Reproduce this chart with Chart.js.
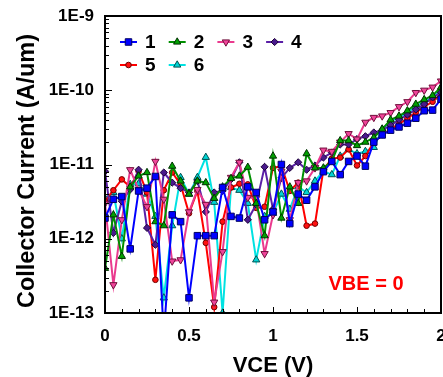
<!DOCTYPE html>
<html>
<head>
<meta charset="utf-8">
<script src="https://cdn.jsdelivr.net/npm/chart.js@4.4.0/dist/chart.umd.min.js"></script>
<style>
  html, body { margin: 0; padding: 0; background: #fff; }
</style>
</head>
<body>
<canvas id="myChart" width="443" height="377"></canvas>
<script>
const canvas = document.getElementById('myChart');
const FONT = '"Liberation Sans", Arial, sans-serif';

// VCE (V) sweep
const vce = [0, 0.05, 0.1, 0.15, 0.2, 0.25, 0.3, 0.35, 0.4, 0.45, 0.5, 0.55, 0.6, 0.65, 0.7, 0.75, 0.8, 0.85, 0.9, 0.95,
    1, 1.05, 1.1, 1.15, 1.2, 1.25, 1.3, 1.35, 1.4, 1.45, 1.5, 1.55, 1.6, 1.65, 1.7, 1.75, 1.8, 1.85, 1.9, 1.95, 2];

const seriesNames = ['1', '2', '3', '4', '5', '6'];

// collector current (A/um), one array per device
const ic1 = [1.9e-12, 3.4e-12, 3.7e-12, 7.3e-13, 4.4e-12, 4.8e-12, 6.9e-12, 5e-14, 2.1e-12, 1.7e-12,
    1.6e-13, 1.1e-12, 1.1e-12, 1.1e-12, 4.9e-12, 2.0e-12, 1.9e-12, 5e-12, 4.2e-12, 1.8e-12,
    2.3e-12, 1e-11, 1.6e-12, 4e-12, 3.3e-12, 5e-12, 8e-12, 1.1e-11, 7.3e-12, 1.1e-11,
    1.3e-11, 9.5e-12, 2e-11, 2.5e-11, 2.9e-11, 3.2e-11, 3.6e-11, 4.2e-11, 5.3e-11, 5.4e-11, 7.6e-11];
const ic2 = [4e-13, 2.1e-12, 5.8e-13, 5e-12, 7e-12, 7.8e-12, 1.7e-12, 1.5e-12, 9.5e-12, 6e-12,
    4e-12, 6e-12, 5.7e-12, 3.5e-12, 5e-12, 6.5e-12, 7e-12, 9.2e-12, 3e-12, 1.1e-12,
    1.3e-11, 1.9e-12, 5e-12, 3e-12, 1.4e-11, 9e-12, 9e-12, 1.1e-11, 2.1e-11, 2.1e-11,
    1.8e-11, 2e-11, 2.3e-11, 3e-11, 4e-11, 4.5e-11, 5.3e-11, 6.5e-11, 7.5e-11, 8.5e-11, 1.1e-10];
const ic3 = [3e-12, 2.4e-13, 1.8e-12, 8.5e-12, 4.6e-12, 2.7e-12, 1.1e-11, 3.4e-12, 5e-13, 5.2e-13,
    2.3e-12, 4.6e-12, 2.9e-12, 1.4e-13, 6.7e-13, 6.7e-12, 1.07e-11, 3.6e-12, 3.5e-12, 6.3e-13,
    2.1e-12, 8.1e-12, 1.8e-12, 5.7e-12, 6e-12, 9e-12, 1.56e-11, 1.5e-11, 2e-11, 2.6e-11,
    2.2e-11, 3.7e-11, 4.3e-11, 4.5e-11, 5e-11, 6e-11, 7e-11, 9.3e-11, 1e-10, 1.1e-10, 1.33e-10];
const ic4 = [8.1e-12, 1.2e-12, 3.2e-12, 4.6e-12, 8.5e-12, 1.4e-12, 8.3e-13, 7.8e-12, 5.7e-12, 4.8e-12,
    4.2e-12, 6e-12, 2.3e-12, 4.2e-12, 4.4e-12, 6.3e-12, 1.07e-11, 1.8e-12, 2.9e-12, 9.3e-12,
    2.5e-12, 6.6e-12, 9e-12, 1.07e-11, 8.5e-12, 9.7e-12, 1.24e-11, 1.45e-11, 1.86e-11, 1.86e-11,
    2.2e-11, 2.4e-11, 2.7e-11, 2.9e-11, 3.4e-11, 4e-11, 4.7e-11, 5.5e-11, 6.5e-11, 8e-11, 9.4e-11];
const ic5 = [3.2e-12, 4.5e-12, 6.3e-12, 5e-12, 8.1e-12, 4.2e-12, 2.8e-13, 4.5e-12, 7.8e-12, 5.4e-12,
    2.2e-12, 4.4e-12, 8.8e-13, 1.2e-13, 1.7e-12, 4.9e-12, 5.5e-12, 5.4e-12, 2.6e-12, 2.7e-12,
    9e-12, 9.5e-12, 4.4e-12, 5.7e-12, 1.5e-12, 1.6e-12, 8.5e-12, 1.2e-11, 1.24e-11, 1.6e-11,
    9.7e-12, 1.3e-11, 2e-11, 2.5e-11, 3e-11, 3.5e-11, 4.2e-11, 5e-11, 6e-11, 7e-11, 9e-11];
const ic6 = [3.5e-12, 4.2e-12, 1e-12, 5.4e-12, 5.5e-12, 4e-12, 2e-12, 1.6e-13, 1.5e-12, 6.7e-12,
    4e-12, 6.7e-12, 1.25e-11, 3.1e-12, 1e-13, 4.9e-12, 4.5e-12, 3e-12, 5.2e-13, 2e-12,
    2.2e-12, 4e-12, 2.5e-12, 5e-12, 4.2e-12, 6e-12, 8.1e-12, 7.3e-12, 1.3e-11, 1.6e-11,
    1.4e-11, 1.5e-11, 1.7e-11, 3e-11, 3.8e-11, 4.3e-11, 5e-11, 6e-11, 7e-11, 8e-11, 1e-10];

const xTicks = [0, 0.5, 1, 1.5, 2];
const xTickLabels = ['0', '0.5', '1', '1.5', '2'];
const yTicks = [1e-13, 1e-12, 1e-11, 1e-10, 1e-9];
const yTickLabels = ['1E-13', '1E-12', '1E-11', '1E-10', '1E-9'];
const yTitle = 'Collector Current (A/um)';
const note = 'VBE = 0';

const allSeries = [ic1, ic2, ic3, ic4, ic5, ic6];
const styles = [
    { line: '#0000ff', fill: '#0000ff', edge: '#000060', shape: 'rect', r: 4.6, rot: 0 },
    { line: '#008f00', fill: '#00a000', edge: '#003000', shape: 'triangle', r: 4.2, rot: 0 },
    { line: '#ea3a8e', fill: '#f0449a', edge: '#70103c', shape: 'triangle', r: 4.2, rot: 180 },
    { line: '#5a1fa6', fill: '#4a1a8c', edge: '#1c0038', shape: 'rectRot', r: 3.6, rot: 0 },
    { line: '#ff0000', fill: '#ff1010', edge: '#700000', shape: 'circle', r: 2.8, rot: 0 },
    { line: '#00e2e2', fill: '#00d4d4', edge: '#005050', shape: 'triangle', r: 4.2, rot: 0 }
];

const datasets = allSeries.map((vals, i) => ({
    label: seriesNames[i],
    data: vals.map((v, j) => ({ x: vce[j], y: v })),
    borderColor: styles[i].line,
    backgroundColor: styles[i].fill,
    borderWidth: 2,
    pointStyle: styles[i].shape,
    pointRotation: styles[i].rot,
    pointRadius: styles[i].r,
    pointBackgroundColor: styles[i].fill,
    pointBorderColor: styles[i].edge,
    pointBorderWidth: 1,
    tension: 0
}));

// frame, inward tick marks, x labels, y title, legend inside the plot, annotation
const decorPlugin = {
    id: 'decor',
    afterDatasetsDraw(chart) {
        const { ctx, chartArea: a, scales: { x, y } } = chart;
        ctx.save();
        ctx.strokeStyle = '#000';
        ctx.lineWidth = 1;
        ctx.beginPath();
        for (let i = 0; i <= 20; i++) {
            const px = Math.round(x.getPixelForValue(i / 10)) + 0.5;
            const len = i % 5 === 0 ? 6 : 4;
            ctx.moveTo(px, a.bottom);
            ctx.lineTo(px, a.bottom - len);
        }
        for (let k = -13; k <= -9; k++) {
            for (let m = 1; m <= 9; m++) {
                if (k === -9 && m > 1) break;
                const py = Math.round(y.getPixelForValue(m * Math.pow(10, k))) + 0.5;
                const len = m === 1 ? 7 : 4;
                ctx.moveTo(a.left, py);
                ctx.lineTo(a.left + len, py);
            }
        }
        ctx.stroke();

        ctx.lineWidth = 2;
        ctx.strokeRect(a.left, a.top, a.right - a.left, a.bottom - a.top);

        // x tick labels (drawn here so the last one can run off the canvas)
        ctx.fillStyle = '#000';
        ctx.font = 'bold 17px ' + FONT;
        ctx.textAlign = 'center';
        ctx.textBaseline = 'middle';
        xTicks.forEach((v, i) => {
            ctx.fillText(xTickLabels[i], x.getPixelForValue(v), a.bottom + 23);
        });

        // y title
        ctx.save();
        ctx.translate(a.left - 77, (a.top + a.bottom) / 2 + 6.5);
        ctx.rotate(-Math.PI / 2);
        ctx.font = 'bold 23.5px ' + FONT;
        ctx.fillText(yTitle, 0, 0);
        ctx.restore();

        // legend
        chart.data.datasets.forEach((ds, i) => {
            const col = i % 4, row = Math.floor(i / 4);
            const x0 = a.left + 15 + col * 48.7;
            const y0 = a.top + 26 + row * 23;
            ctx.strokeStyle = ds.borderColor;
            ctx.lineWidth = 2;
            ctx.beginPath();
            ctx.moveTo(x0, y0);
            ctx.lineTo(x0 + 17, y0);
            ctx.stroke();
            ctx.fillStyle = ds.pointBackgroundColor;
            ctx.strokeStyle = ds.pointBorderColor;
            ctx.lineWidth = 1;
            Chart.helpers.drawPoint(ctx, {
                pointStyle: ds.pointStyle, rotation: ds.pointRotation,
                radius: ds.pointRadius, borderWidth: 1
            }, x0 + 8.5, y0);
            ctx.fillStyle = '#000';
            ctx.font = 'bold 19px ' + FONT;
            ctx.textAlign = 'left';
            ctx.textBaseline = 'middle';
            ctx.fillText(ds.label, x0 + 25, y0 + 1);
        });

        ctx.fillStyle = '#ff0000';
        ctx.font = 'bold 20px ' + FONT;
        ctx.textAlign = 'center';
        ctx.textBaseline = 'middle';
        ctx.fillText(note, a.right - 75, a.bottom - 29);
        ctx.restore();
    }
};

const config = {
    type: 'line',
    data: { datasets: datasets },
    options: {
        responsive: false,
        animation: false,
        layout: {
            autoPadding: false,
            padding: { left: 14, right: 2, top: 16, bottom: 0 }
        },
        plugins: {
            legend: { display: false },
            tooltip: { enabled: false }
        },
        scales: {
            x: {
                type: 'linear',
                min: 0,
                max: 2,
                grid: { display: false, drawTicks: false },
                border: { display: false },
                ticks: { display: false, stepSize: 0.5 },
                title: {
                    display: true,
                    text: 'VCE (V)',
                    color: '#000',
                    padding: 0,
                    font: { family: FONT, size: 22, weight: 'bold', lineHeight: 1 }
                },
                afterFit: s => { s.height = 64; }
            },
            y: {
                type: 'logarithmic',
                min: 1e-13,
                max: 1e-9,
                grid: { display: false, drawTicks: false },
                border: { display: false },
                afterBuildTicks: s => { s.ticks = yTicks.map(v => ({ value: v })); },
                ticks: {
                    padding: 11,
                    autoSkip: false,
                    color: '#000',
                    font: { family: FONT, size: 17, weight: 'bold' },
                    callback: v => yTickLabels[yTicks.indexOf(v)]
                },
                afterFit: s => { s.width = 91; s.paddingTop = 0; s.paddingBottom = 0; }
            }
        }
    },
    plugins: [decorPlugin]
};

const myChart = new Chart(canvas, config);
</script>
</body>
</html>
